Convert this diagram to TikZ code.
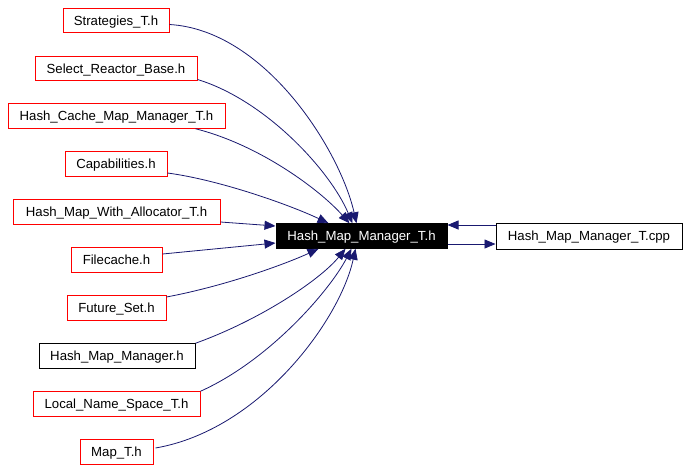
\documentclass[tikz,border=0pt]{standalone}
\usepackage{fontspec}
\setmainfont{Liberation Sans}
\usetikzlibrary{arrows.meta,calc}
\definecolor{edgeblue}{HTML}{191970}
\definecolor{boxred}{HTML}{FF0000}
\begin{document}
\begin{tikzpicture}[x=1pt,y=-1pt,
  box/.style={draw=boxred,line width=1pt,fill=white,inner sep=0pt,minimum height=24.5pt,text height=9.4pt,text depth=0pt,font=\fontsize{13.2}{15}\selectfont},
  plainbox/.style={box,draw=black},
  mainbox/.style={box,draw=black,fill=black,text=white},
  dep/.style={draw=edgeblue,line width=0.8pt,-{Triangle[length=11pt,width=9pt]}}]
\useasboundingbox (0,0) rectangle (688,469);
\fill[white] (0,0) rectangle (688,469);
\node[box,minimum width=106pt] (n1) at (116,20.5) {Strategies\_T.h};
\node[box,minimum width=162pt] (n2) at (116,68.5) {Select\_Reactor\_Base.h};
\node[box,minimum width=217pt] (n3) at (116.5,116) {Hash\_Cache\_Map\_Manager\_T.h};
\node[box,minimum width=102pt] (n4) at (116,164) {Capabilities.h};
\node[box,minimum width=207pt] (n5) at (116.5,212) {Hash\_Map\_With\_Allocator\_T.h};
\node[box,minimum width=91pt] (n6) at (116.5,260) {Filecache.h};
\node[box,minimum width=99pt] (n7) at (116.5,308) {Future\_Set.h};
\node[plainbox,minimum width=156pt] (n8) at (117,356) {Hash\_Map\_Manager.h};
\node[box,minimum width=167pt] (n9) at (116.5,404) {Local\_Name\_Space\_T.h};
\node[box,minimum width=73pt] (n10) at (116.5,452) {Map\_T.h};
\node[mainbox,minimum width=171pt] (c) at (361.5,236) {Hash\_Map\_Manager\_T.h};
\node[plainbox,minimum width=186pt,minimum height=26pt] (cpp) at (589,236) {Hash\_Map\_Manager\_T.cpp};

\draw[dep] ($(n1.east)+(0,4)$) .. controls (265,30) and (340,150) .. ($(c.north)+(-5,0)$);
\draw[dep] ($(n2.east)+(0,11)$) .. controls (265,100) and (330,170) .. ($(c.north)+(-9,0)$);
\draw[dep] ($(n3.south east)+(-30,0)$) .. controls (260,145) and (320,190) .. ($(c.north)+(-12,0)$);
\draw[dep] ($(n4.east)+(0,9)$) .. controls (220,180) and (290,205) .. ($(c.north)+(-33,0)$);
\draw[dep] ($(n5.east)+(0,10)$) -- ($(c.west)+(0,-10)$);
\draw[dep] ($(n6.east)+(0,-6)$) -- ($(c.west)+(0,7)$);
\draw[dep] ($(n7.east)+(0,-11)$) .. controls (230,285) and (290,262) .. ($(c.south)+(-43,0)$);
\draw[dep] ($(n8.north east)+(0,0)$) .. controls (260,320) and (320,280) .. ($(c.south)+(-16,0)$);
\draw[dep] ($(n9.north east)$) .. controls (270,360) and (330,290) .. ($(c.south)+(-10,0)$);
\draw[dep] ($(n10.east)+(2,-4)$) .. controls (260,430) and (340,320) .. ($(c.south)+(-6,0)$);
\draw[dep] ($(cpp.west)+(0,-11)$) -- ($(c.east)+(0,-11)$);
\draw[dep] ($(c.east)+(0,8)$) -- ($(cpp.west)+(0,8)$);
\end{tikzpicture}
\end{document}
